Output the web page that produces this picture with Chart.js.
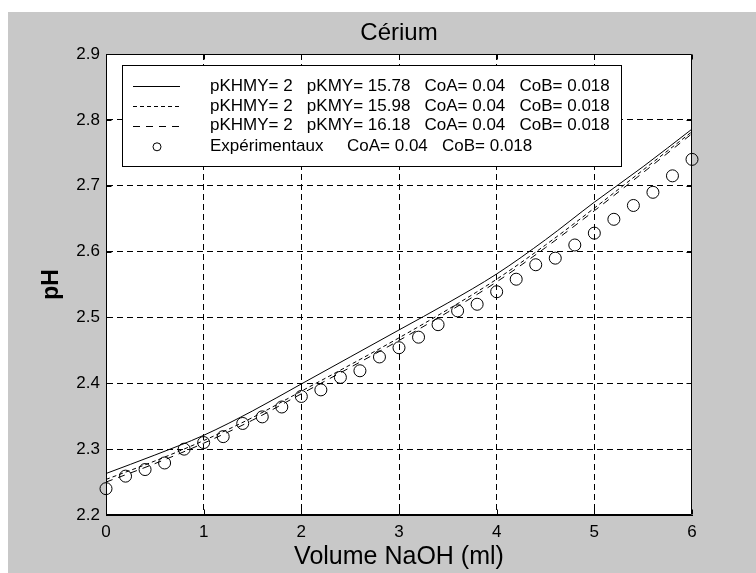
<!DOCTYPE html>
<html><head><meta charset="utf-8">
<script src="https://cdn.jsdelivr.net/npm/chart.js@4.4.1/dist/chart.umd.min.js"></script>
<style>html,body{margin:0;padding:0;background:#fff;overflow:hidden}canvas{display:block}</style>
</head><body>
<canvas id="c" width="756" height="573"></canvas>
<script>
// ---- data ----
const chartTitle = 'Cérium';
const xAxisTitle = 'Volume NaOH (ml)';
const yAxisTitle = 'pH';
const xTickLabels = ['0', '1', '2', '3', '4', '5', '6'];
const yTickLabels = ['2.2', '2.3', '2.4', '2.5', '2.6', '2.7', '2.8', '2.9'];

const curveX = [0, 0.5, 1, 1.5, 2, 2.5, 3, 3.5, 4, 4.5, 5, 5.5, 6];
const pH_pKMY_1578 = [2.263, 2.291, 2.321, 2.358, 2.399, 2.440, 2.481, 2.522, 2.566, 2.618, 2.675, 2.729, 2.786];
const pH_pKMY_1598 = [2.254, 2.282, 2.313, 2.348, 2.388, 2.428, 2.469, 2.512, 2.558, 2.610, 2.666, 2.724, 2.782];
const pH_pKMY_1618 = [2.250, 2.278, 2.309, 2.344, 2.384, 2.424, 2.465, 2.508, 2.554, 2.606, 2.662, 2.720, 2.779];

const expX = [0, 0.2, 0.4, 0.6, 0.8, 1.0, 1.2, 1.4, 1.6, 1.8, 2.0, 2.2, 2.4, 2.6, 2.8, 3.0,
              3.2, 3.4, 3.6, 3.8, 4.0, 4.2, 4.4, 4.6, 4.8, 5.0, 5.2, 5.4, 5.6, 5.8, 6.0];
const expPH = [2.240, 2.259, 2.269, 2.279, 2.300, 2.310, 2.319, 2.339, 2.349, 2.364, 2.380, 2.390, 2.409, 2.419, 2.440, 2.454,
               2.470, 2.489, 2.510, 2.520, 2.539, 2.558, 2.580, 2.590, 2.610, 2.628, 2.649, 2.670, 2.690, 2.715, 2.740];

const seriesLabels = [
  'pKHMY= 2   pKMY= 15.78   CoA= 0.04   CoB= 0.018',
  'pKHMY= 2   pKMY= 15.98   CoA= 0.04   CoB= 0.018',
  'pKHMY= 2   pKMY= 16.18   CoA= 0.04   CoB= 0.018',
  'Expérimentaux     CoA= 0.04   CoB= 0.018'
];

// ---- chart ----
const FONT = '"Liberation Sans", Arial, Helvetica, sans-serif';
Chart.defaults.font.family = FONT;
Chart.defaults.color = '#000';

const toXY = (xs, ys) => xs.map((x, i) => ({x: x, y: ys[i]}));

const bgPlugin = {
  id: 'bg',
  beforeDraw(chart) {
    const ctx = chart.ctx, a = chart.chartArea;
    ctx.save();
    ctx.fillStyle = '#ffffff';
    ctx.fillRect(0, 0, chart.width, chart.height);
    ctx.fillStyle = '#c8c8c8';
    ctx.fillRect(8, 12, chart.width - 8, chart.height - 12);
    ctx.fillStyle = '#ffffff';
    ctx.fillRect(a.left, a.top, a.right - a.left, a.bottom - a.top);
    ctx.fillStyle = '#000';
    ctx.font = '24px ' + FONT;
    ctx.textAlign = 'center';
    ctx.textBaseline = 'alphabetic';
    ctx.fillText(chartTitle, (a.left + a.right) / 2, 40);
    ctx.restore();
  }
};

const framePlugin = {
  id: 'frame',
  afterDatasetsDraw(chart) {
    const ctx = chart.ctx, a = chart.chartArea;
    const xs = chart.scales.x, ys = chart.scales.y;
    ctx.save();
    ctx.strokeStyle = '#000';
    ctx.lineWidth = 1;
    ctx.setLineDash([]);
    ctx.beginPath();
    const L = Math.round(a.left) + 0.5, R = Math.round(a.right) - 0.5;
    const T = Math.round(a.top) + 0.5, B = Math.round(a.bottom) - 0.5;
    ctx.rect(L, T, R - L, B - T);
    const tl = 5;
    xs.ticks.forEach(t => {
      const px = Math.round(xs.getPixelForValue(t.value)) + 0.5;
      ctx.moveTo(px, B); ctx.lineTo(px, B - tl);
      ctx.moveTo(px, T); ctx.lineTo(px, T + tl);
    });
    ys.ticks.forEach(t => {
      const py = Math.round(ys.getPixelForValue(t.value)) + 0.5;
      ctx.moveTo(L, py); ctx.lineTo(L + tl, py);
      ctx.moveTo(R, py); ctx.lineTo(R - tl, py);
    });
    ctx.stroke();

    // legend box inside the axes
    const box = {l: 122.5, t: 65.5, r: 621.5, b: 166.5};
    ctx.fillStyle = '#fff';
    ctx.fillRect(box.l, box.t, box.r - box.l, box.b - box.t);
    ctx.strokeRect(box.l, box.t, box.r - box.l, box.b - box.t);
    const rowsY = [86.2, 106.3, 125.5, 146.3];
    ctx.font = '17px ' + FONT;
    ctx.textAlign = 'left';
    ctx.textBaseline = 'middle';
    ctx.fillStyle = '#000';
    chart.data.datasets.forEach((ds, i) => {
      const y = rowsY[i];
      if (ds.showLine === false) {
        ctx.setLineDash([]);
        ctx.beginPath();
        ctx.arc(157, y + 0.5, 4, 0, Math.PI * 2);
        ctx.stroke();
      } else {
        ctx.setLineDash(ds.borderDash || []);
        ctx.beginPath();
        ctx.moveTo(133, Math.round(y) + 0.5);
        ctx.lineTo(180, Math.round(y) + 0.5);
        ctx.stroke();
      }
      ctx.setLineDash([]);
      ctx.fillText(ds.label, 210, y);
    });
    ctx.restore();
  }
};

new Chart(document.getElementById('c'), {
  type: 'scatter',
  data: {
    datasets: [
      {label: seriesLabels[0], data: toXY(curveX, pH_pKMY_1578), showLine: true, borderColor: '#000', borderWidth: 1,
       pointRadius: 0, cubicInterpolationMode: 'monotone', borderDash: []},
      {label: seriesLabels[1], data: toXY(curveX, pH_pKMY_1598), showLine: true, borderColor: '#000', borderWidth: 1,
       pointRadius: 0, cubicInterpolationMode: 'monotone', borderDash: [4, 3]},
      {label: seriesLabels[2], data: toXY(curveX, pH_pKMY_1618), showLine: true, borderColor: '#000', borderWidth: 1,
       pointRadius: 0, cubicInterpolationMode: 'monotone', borderDash: [7, 6]},
      {label: seriesLabels[3], data: toXY(expX, expPH), showLine: false, borderColor: '#000', borderWidth: 1,
       backgroundColor: 'rgba(0,0,0,0)', pointRadius: 6, pointStyle: 'circle', clip: false}
    ]
  },
  options: {
    responsive: false,
    animation: false,
    devicePixelRatio: 1,
    layout: {padding: {left: 8, top: 54, right: 64, bottom: 0}},
    plugins: {legend: {display: false}, title: {display: false}, tooltip: {enabled: false}},
    scales: {
      x: {
        type: 'linear', position: 'bottom', min: 0, max: 6,
        afterBuildTicks: s => { s.ticks = xTickLabels.map(v => ({value: parseFloat(v)})); },
        ticks: {font: {size: 17}, color: '#000', padding: 7, maxRotation: 0, autoSkip: false,
                callback: (v, i) => xTickLabels[i]},
        grid: {color: c => (c.index === 0 || c.index === xTickLabels.length - 1) ? 'rgba(0,0,0,0)' : '#000',
               lineWidth: 1, drawTicks: false},
        border: {display: true, color: '#000', width: 1, dash: [6, 4]},
        title: {display: true, text: xAxisTitle, font: {size: 25}, color: '#000', padding: {top: 0, bottom: 1}},
        afterFit: s => { s.height = 58; s.paddingLeft = 0; s.paddingRight = 0; }
      },
      y: {
        type: 'linear', position: 'left', min: 2.2, max: 2.9,
        afterBuildTicks: s => { s.ticks = yTickLabels.map(v => ({value: parseFloat(v)})); },
        ticks: {font: {size: 17}, color: '#000', padding: 6, autoSkip: false,
                callback: (v, i) => yTickLabels[i]},
        grid: {color: c => (c.index === 0 || c.index === yTickLabels.length - 1) ? 'rgba(0,0,0,0)' : '#000',
               lineWidth: 1, drawTicks: false},
        border: {display: true, color: '#000', width: 1, dash: [6, 4]},
        title: {display: true, text: yAxisTitle, font: {size: 23, weight: 'bold'}, color: '#000', padding: {top: 30, bottom: 0}},
        afterFit: s => { s.width = 98; s.paddingTop = 0; s.paddingBottom = 0; }
      }
    }
  },
  plugins: [bgPlugin, framePlugin]
});
</script>
</body></html>
